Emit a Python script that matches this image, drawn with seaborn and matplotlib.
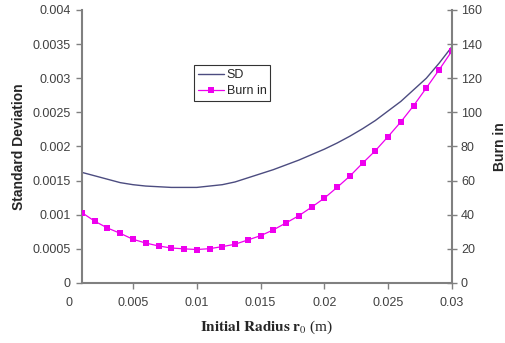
import numpy as np
import matplotlib
matplotlib.use("Agg")
import matplotlib.pyplot as plt
import pandas as pd
import seaborn as sns

# Data
radius = [0.001, 0.002, 0.003, 0.004, 0.005, 0.006, 0.007, 0.008, 0.009, 0.010,
          0.011, 0.012, 0.013, 0.014, 0.015, 0.016, 0.017, 0.018, 0.019, 0.020,
          0.021, 0.022, 0.023, 0.024, 0.025, 0.026, 0.027, 0.028, 0.029, 0.030]
sd = [0.00162, 0.00157, 0.00152, 0.00147, 0.00144, 0.00142, 0.00141, 0.00140, 0.00140, 0.00140,
      0.00142, 0.00144, 0.00148, 0.00154, 0.00160, 0.00166, 0.00173, 0.00180, 0.00188, 0.00196,
      0.00205, 0.00215, 0.00226, 0.00238, 0.00252, 0.00266, 0.00283, 0.00300, 0.00322, 0.00346]
burn_in = [41.2, 36.2, 32.2, 29.1, 25.6, 23.4, 21.7, 20.5, 20.0, 19.6,
           20.1, 21.3, 22.7, 25.2, 27.7, 31.1, 35.2, 39.4, 44.4, 49.7,
           56.0, 62.6, 70.2, 77.5, 85.8, 94.4, 103.9, 114.3, 124.9, 135.9]

x_ticks = [0.005, 0.01, 0.015, 0.02, 0.025, 0.03]
x_ticklabels = ["0.005", "0.01", "0.015", "0.02", "0.025", "0.03"]
sd_ticks = [0, 0.0005, 0.001, 0.0015, 0.002, 0.0025, 0.003, 0.0035, 0.004]
sd_ticklabels = ["0", "0.0005", "0.001", "0.0015", "0.002", "0.0025", "0.003", "0.0035", "0.004"]
burn_ticks = [0, 20, 40, 60, 80, 100, 120, 140, 160]

df = pd.DataFrame({"radius": radius, "sd": sd, "burn_in": burn_in})

sns.set_style("white")
plt.rcParams['font.family'] = ['Liberation Sans', 'DejaVu Sans']
plt.rcParams['mathtext.fontset'] = 'stix'

sd_color = "#4c4c80"
burn_color = "#ee00ee"
spine_color = "#808080"
text_color = "#404040"

fig = plt.figure(figsize=(5.06, 3.43), dpi=100)
ax = fig.add_axes([0.162, 0.175, 0.731, 0.796])
ax2 = ax.twinx()

sns.lineplot(data=df, x="radius", y="sd", ax=ax, color=sd_color, linewidth=1.0, label="SD", legend=False)
sns.lineplot(data=df, x="radius", y="burn_in", ax=ax2, color=burn_color, linewidth=0.9,
             marker="s", markersize=5, markeredgewidth=0, label="Burn in", legend=False)

ax.set_xlim(0.001, 0.03)
ax.set_ylim(0, 0.004)
ax2.set_ylim(0, 160)

ax.set_xticks(x_ticks)
ax.set_xticklabels(x_ticklabels)
ax.set_yticks(sd_ticks)
ax.set_yticklabels(sd_ticklabels)
ax2.set_yticks(burn_ticks)

for a in (ax, ax2):
    a.spines["top"].set_visible(False)
    for side in ["left", "right", "bottom"]:
        a.spines[side].set_color(spine_color)
        a.spines[side].set_linewidth(1.5)
ax.spines["right"].set_visible(False)
ax2.spines["left"].set_visible(False)
ax2.spines["bottom"].set_visible(False)

ax.tick_params(axis="both", direction="out", length=4, width=1, color=spine_color,
               labelsize=9, labelcolor=text_color, pad=4)
ax.tick_params(axis="y", left=True)
ax.tick_params(axis="x", bottom=True, pad=6)
ax2.tick_params(axis="y", direction="inout", length=7, width=1, color=spine_color,
                labelsize=9, labelcolor=text_color, right=True, pad=3)

# the "0" under the x axis sits left of the plot area in the original
ax.annotate("0", xy=(0, 0), xycoords=("data", "axes fraction"), xytext=(0, -10),
            textcoords="offset points", ha="center", va="top", fontsize=9,
            color=text_color, annotation_clip=False)

ax.set_xlabel(r"$\mathbf{Initial\ Radius\ r}_{0}$ (m)", fontfamily="Liberation Serif",
              fontsize=11, labelpad=7)
ax.set_ylabel("Standard Deviation", fontsize=10, fontweight="bold", labelpad=5)
ax2.set_ylabel("Burn in", fontsize=10, fontweight="bold", labelpad=8)

h1, l1 = ax.get_legend_handles_labels()
h2, l2 = ax2.get_legend_handles_labels()
leg = fig.legend(h1 + h2, l1 + l2, loc="center", bbox_to_anchor=(0.459, 0.758),
                 fontsize=9, frameon=True, fancybox=False, handlelength=2.1,
                 borderpad=0.3, labelspacing=0.3, handletextpad=0.2, borderaxespad=0)
leg.get_frame().set_edgecolor("black")
leg.get_frame().set_linewidth(0.8)

fig.savefig("out.png", dpi=100)
